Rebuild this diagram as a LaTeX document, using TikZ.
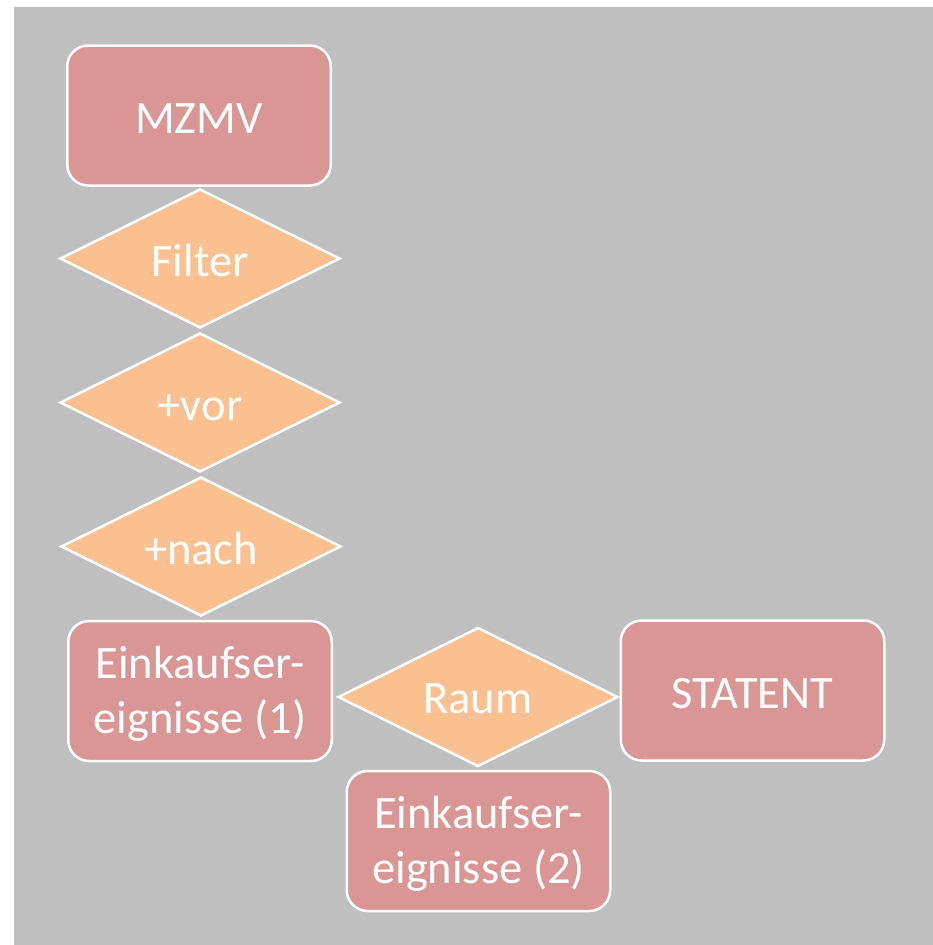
\documentclass[tikz,border=0pt]{standalone}
\usepackage{fontspec}
\setmainfont{Carlito}
\usetikzlibrary{shapes.geometric}

\definecolor{canvasgray}{HTML}{BFBFBF}
\definecolor{boxred}{HTML}{D99694}
\definecolor{diaorange}{HTML}{FAC090}

% two centred lines; baseline of the box is the baseline of the last line
\newcommand\twolines[2]{\vbox{\halign{\hfil##\hfil\cr#1\cr#2\cr}}}

\tikzset{
  labeltext/.style={text=white, font=\fontsize{46.5}{55}\selectfont, inner sep=0pt},
  entitybox/.style={labeltext, rectangle, rounded corners=21pt, draw=white,
    line width=2.5pt, fill=boxred, minimum width=263.5pt, minimum height=140pt,
    text height=35pt, text depth=0pt},
  twoline/.style={text height=84pt, text depth=0pt},
  relation/.style={labeltext, diamond, shape aspect=2, draw=white,
    line width=2.5pt, fill=diaorange, minimum width=280pt, minimum height=139pt,
    text height=35pt, text depth=0pt},
}

\begin{document}
\begin{tikzpicture}[x=1pt, y=-1pt]
  \useasboundingbox (0,0) rectangle (933,945);
  \fill[white] (0,0) rectangle (933,945);
  \fill[canvasgray] (14,7) rectangle (933,945);

  \node[entitybox] (mzmv) at (199,115.5) {MZMV};
  \node[relation] (filter) at (200,258.5) {Filter};
  \node[relation] (vor) at (200,402.5) {+vor};
  \node[relation] (nach) at (201,546.5) {+nach};
  \node[entitybox, twoline] (eink1) at (200,691)
    {\twolines{Einkaufser-}{eignisse (1)}};
  \node[relation, text height=32pt] (raum) at (478,697) {Raum};
  \node[entitybox] (statent) at (752.5,690.5) {STATENT};
  \node[entitybox, twoline] (eink2) at (478.5,841)
    {\twolines{Einkaufser-}{eignisse (2)}};
\end{tikzpicture}
\end{document}
